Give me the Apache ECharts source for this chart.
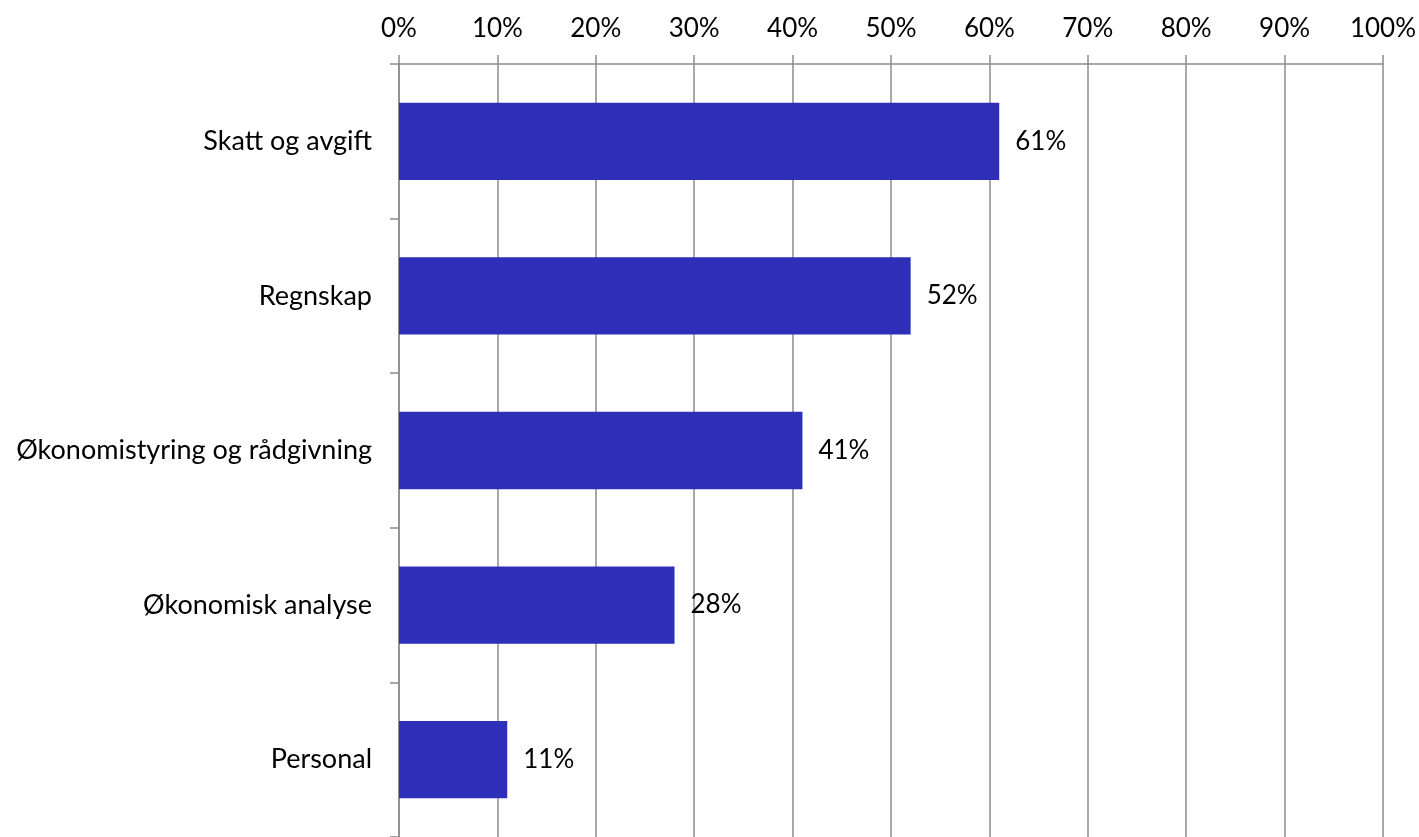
<!DOCTYPE html>
<html>
<head>
<meta charset="utf-8">
<script src="https://cdn.jsdelivr.net/npm/echarts@6/dist/echarts.min.js"></script>
<style>
  html, body { margin: 0; padding: 0; background: #fff; }
  #chart { width: 1419px; height: 837px; }
</style>
</head>
<body>
<div id="chart"></div>
<script>
var categories = ['Skatt og avgift', 'Regnskap', 'Økonomistyring og rådgivning', 'Økonomisk analyse', 'Personal']
var values = [61, 52, 41, 28, 11]

var chart = echarts.init(document.getElementById('chart'))
chart.setOption({
  animation: false,
  textStyle: { fontFamily: 'Lato' },
  grid: { left: 399, right: 35, top: 64, height: 775 },
  xAxis: {
    type: 'value',
    position: 'top',
    min: 0,
    max: 100,
    interval: 10,
    axisLine: { show: true, lineStyle: { color: '#8c8c8c', width: 1.5 } },
    axisTick: { show: true, length: 9, lineStyle: { color: '#8c8c8c', width: 1.5 } },
    splitLine: { show: true, lineStyle: { color: '#8c8c8c', width: 1.5 } },
    axisLabel: { formatter: '{value}%', color: '#000', fontSize: 26, margin: 22 }
  },
  yAxis: {
    type: 'category',
    inverse: true,
    data: categories,
    axisLine: { show: true, lineStyle: { color: '#8c8c8c', width: 1.5 } },
    axisTick: { show: true, length: 9, lineStyle: { color: '#8c8c8c', width: 1.5 } },
    axisLabel: { color: '#000', fontSize: 27, margin: 27 }
  },
  series: [{
    type: 'bar',
    data: values,
    barCategoryGap: '50%',
    itemStyle: { color: '#2e2eb8' },
    label: {
      show: true,
      position: 'right',
      distance: 16,
      formatter: '{c}%',
      color: '#000',
      fontSize: 26
    }
  }]
})
</script>
</body>
</html>
